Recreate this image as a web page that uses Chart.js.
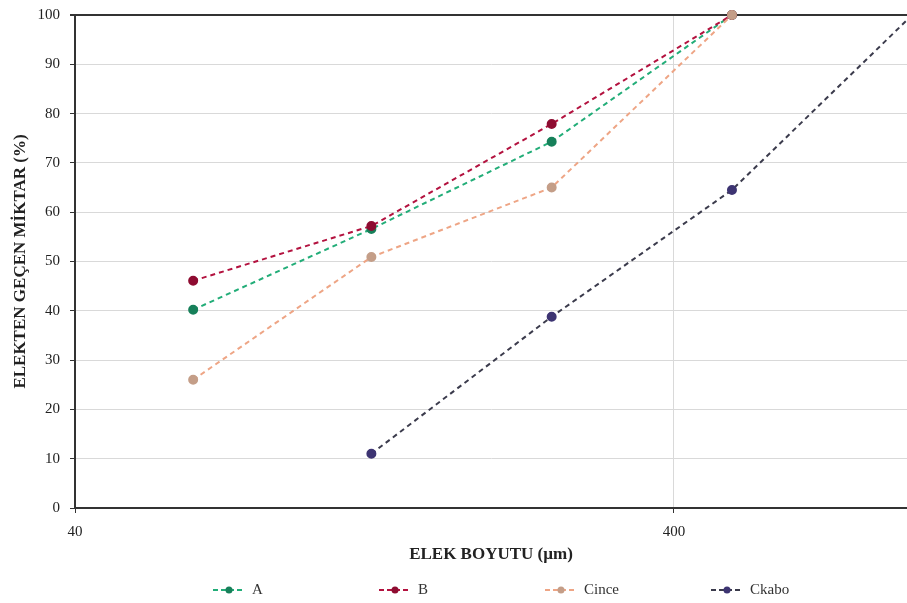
<!DOCTYPE html>
<html lang="tr">
<head>
    <meta charset="UTF-8">
    <title>Elek Analizi</title>
    <script src="https://cdn.jsdelivr.net/npm/chart.js"></script>
    <style>
        html, body {
            margin: 0;
            padding: 0;
            background: #fff;
        }

        #wrap {
            width: 907px;
            height: 603px;
        }
    </style>
</head>
<body>
    <div id="wrap"><canvas id="sieveChart"></canvas></div>

<script>
    // Sieve sizes (µm) and percent passing for each sample
    const sieveSizes = [63, 125, 250, 500, 1000];
    const passA = [40.2, 56.6, 74.3, 100, null];
    const passB = [46.1, 57.2, 77.9, 100, null];
    const passCince = [26.0, 50.9, 65.0, 100, null];
    const passCkabo = [null, 11.0, 38.8, 64.5, 100];

    const seriesNames = ['A', 'B', 'Cince', 'Ckabo'];
    const xTickValues = [40, 400];
    const yTickValues = [0, 10, 20, 30, 40, 50, 60, 70, 80, 90, 100];

    const lineColors = ['#22ad78', '#b3123f', '#eea585', '#3b3b4c'];
    const pointColors = ['#17805a', '#8e0c31', '#c49e88', '#3d3472'];

    const serif = '"Liberation Serif", "DejaVu Serif", serif';

    function toPoints(values) {
        const pts = [];
        values.forEach((v, i) => {
            if (v !== null) pts.push({ x: sieveSizes[i], y: v });
        });
        return pts;
    }

    const allSeries = [passA, passB, passCince, passCkabo];

    // later series are painted over earlier ones
    const datasets = allSeries.map((values, i) => ({
        label: seriesNames[i],
        data: toPoints(values),
        order: allSeries.length - 1 - i,
        borderColor: lineColors[i],
        backgroundColor: pointColors[i],
        pointBackgroundColor: pointColors[i],
        pointBorderColor: pointColors[i],
        pointRadius: 4,
        borderWidth: 2,
        borderDash: [5, 4],
        fill: false,
        tension: 0,
        clip: false
    }));

    // Legend under the plot: dashed line with a dot, then the name
    const bottomLegend = {
        id: 'bottomLegend',
        afterDraw(chart) {
            const ctx = chart.ctx;
            const area = chart.chartArea;
            const y = chart.height - 13;
            ctx.save();
            ctx.font = '15px ' + serif;
            ctx.textBaseline = 'middle';
            seriesNames.forEach((name, i) => {
                const x0 = area.left + 138 + i * 166;
                ctx.strokeStyle = lineColors[i];
                ctx.lineWidth = 2;
                ctx.setLineDash([5, 3]);
                ctx.beginPath();
                ctx.moveTo(x0, y);
                ctx.lineTo(x0 + 32, y);
                ctx.stroke();
                ctx.setLineDash([]);
                ctx.fillStyle = pointColors[i];
                ctx.beginPath();
                ctx.arc(x0 + 16, y, 3.5, 0, Math.PI * 2);
                ctx.fill();
                ctx.fillStyle = '#333';
                ctx.fillText(name, x0 + 39, y);
            });
            ctx.restore();
        }
    };

    const ctx = document.getElementById('sieveChart').getContext('2d');
    const sieveChart = new Chart(ctx, {
        type: 'line',
        data: { datasets: datasets },
        plugins: [bottomLegend],
        options: {
            responsive: true,
            maintainAspectRatio: false,
            animation: false,
            layout: {
                autoPadding: false,
                padding: { top: 15, right: 0, bottom: 38, left: 0 }
            },
            plugins: {
                legend: { display: false },
                tooltip: { enabled: false }
            },
            scales: {
                x: {
                    type: 'logarithmic',
                    min: 40,
                    max: 980,
                    afterBuildTicks: scale => {
                        scale.ticks = xTickValues.map(v => ({ value: v }));
                    },
                    afterFit: scale => {
                        scale.height = 57;
                        scale.paddingLeft = 0;
                        scale.paddingRight = 0;
                    },
                    ticks: {
                        autoSkip: false,
                        maxRotation: 0,
                        padding: 10,
                        color: '#222',
                        font: { family: serif, size: 15 },
                        callback: v => String(v)
                    },
                    grid: {
                        color: '#d9d9d9',
                        lineWidth: 1,
                        tickLength: 5,
                        tickColor: '#333'
                    },
                    border: { color: '#333', width: 2 },
                    title: {
                        display: true,
                        text: 'ELEK BOYUTU (µm)',
                        color: '#222',
                        font: { family: serif, size: 17, weight: 'bold' },
                        padding: { top: 0, bottom: 0 }
                    }
                },
                y: {
                    min: 0,
                    max: 100,
                    afterBuildTicks: scale => {
                        scale.ticks = yTickValues.map(v => ({ value: v }));
                    },
                    afterFit: scale => {
                        scale.width = 75;
                        scale.paddingTop = 0;
                        scale.paddingBottom = 0;
                    },
                    ticks: {
                        padding: 10,
                        color: '#222',
                        font: { family: serif, size: 15 }
                    },
                    grid: {
                        color: c => (c.tick && c.tick.value === 100 ? '#333' : '#d9d9d9'),
                        lineWidth: c => (c.tick && c.tick.value === 100 ? 2 : 1),
                        tickLength: 5,
                        tickColor: '#333'
                    },
                    border: { color: '#333', width: 2 },
                    title: {
                        display: true,
                        text: 'ELEKTEN GEÇEN MİKTAR (%)',
                        color: '#222',
                        font: { family: serif, size: 17, weight: 'bold' },
                        padding: { top: 10, bottom: 0 }
                    }
                }
            }
        }
    });
</script>
</body>
</html>
